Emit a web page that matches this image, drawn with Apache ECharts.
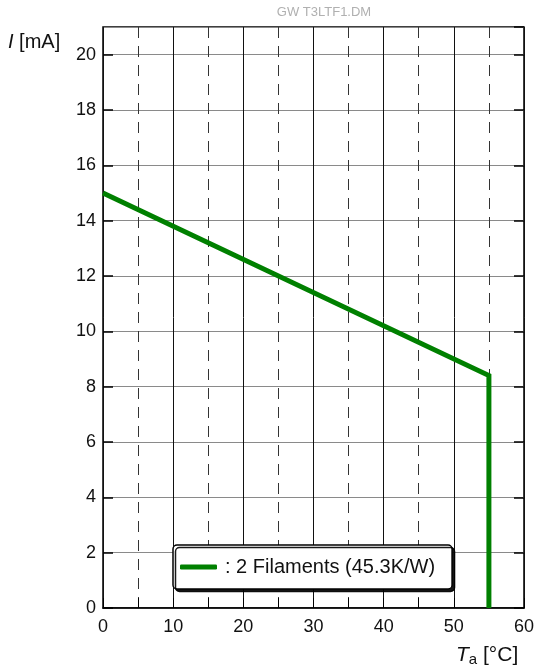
<!DOCTYPE html>
<html>
<head>
<meta charset="utf-8">
<script src="https://cdn.jsdelivr.net/npm/echarts@6/dist/echarts.min.js"></script>
<style>
  html, body { margin: 0; padding: 0; background: #fff; }
  #chart { width: 537px; height: 671px; }
</style>
</head>
<body>
<div id="chart"></div>
<script>
// Derating curve: permissible current vs. ambient temperature
const seriesName = ': 2 Filaments (45.3K/W)';
const ambientTemp = [0, 55, 55];      // °C
const currentMA = [15, 8.4, 0];       // mA
const xMin = 0, xMax = 60, xStep = 10;
const yMin = 0, yMax = 21, yStep = 2;
const chartCode = 'GW T3LTF1.DM';

const FONT = '"Liberation Sans", Arial, Helvetica, sans-serif';
const GREEN = '#008000';
const points = ambientTemp.map((t, i) => [t, currentMA[i]]);

const chart = echarts.init(document.getElementById('chart'), null, { renderer: 'canvas' });

const yCommon = {
  type: 'value', min: yMin, max: yMax, interval: yStep,
  axisLine: { show: false },
  axisTick: { show: true, inside: true, length: 10, lineStyle: { color: '#000', width: 1.5 } }
};

chart.setOption({
  animation: false,
  title: {
    text: chartCode, left: 319, top: 1, textAlign: 'center',
    textStyle: { fontFamily: FONT, fontSize: 13, fontWeight: 'normal', color: '#b0b0b0' }
  },
  grid: {
    left: 103, right: 13, top: 27, bottom: 63,
    show: true, borderColor: '#000', borderWidth: 1.5, backgroundColor: 'transparent'
  },
  xAxis: {
    type: 'value', min: xMin, max: xMax, interval: xStep,
    axisLine: { show: true, lineStyle: { color: '#000', width: 1.5 } },
    axisTick: { show: true, inside: true, length: 10, lineStyle: { color: '#000', width: 1 } },
    minorTick: { show: true, splitNumber: 2, length: 10, lineStyle: { color: '#000', width: 1 } },
    axisLabel: { fontFamily: FONT, fontSize: 18, color: '#111', margin: 10 },
    splitLine: { show: true, lineStyle: { color: '#111', width: 1 } },
    minorSplitLine: { show: true, lineStyle: { color: '#333', width: 1, type: [11, 8] } }
  },
  yAxis: [
    Object.assign({}, yCommon, {
      position: 'left',
      axisLabel: { fontFamily: FONT, fontSize: 18, color: '#111', margin: 7, showMaxLabel: false },
      splitLine: { show: true, lineStyle: { color: '#8a8a8a', width: 1.2 } }
    }),
    Object.assign({}, yCommon, {
      position: 'right',
      axisLabel: { show: false },
      splitLine: { show: false }
    })
  ],
  legend: {
    left: 173, top: 545,
    padding: [12, 17, 12, 7],
    backgroundColor: '#fff',
    borderColor: '#000', borderWidth: 1.5, borderRadius: 4,
    shadowColor: 'rgba(0,0,0,0.9)', shadowOffsetX: 2.5, shadowOffsetY: 2.5, shadowBlur: 0,
    itemWidth: 37, itemHeight: 5, itemGap: 6,
    icon: 'roundRect',
    itemStyle: { color: GREEN },
    textStyle: { fontFamily: FONT, fontSize: 20, color: '#111', padding: [0, 0, 0, 3] },
    data: [{ name: seriesName }]
  },
  graphic: [
    {
      type: 'text', left: 8, top: 32,
      style: {
        text: '{i|I} [mA]',
        font: '20px ' + FONT, fill: '#111',
        rich: { i: { fontStyle: 'italic', fontFamily: FONT, fontSize: 20 } }
      }
    },
    {
      type: 'text', left: 456, top: 645,
      style: {
        text: '{i|T}{s|a} [°C]',
        font: '21px ' + FONT, fill: '#111',
        rich: {
          i: { fontStyle: 'italic', fontFamily: FONT, fontSize: 21 },
          s: { fontFamily: FONT, fontSize: 15, verticalAlign: 'bottom', padding: [9, 0, 0, 0] }
        }
      }
    }
  ],
  series: [{
    name: seriesName,
    type: 'line',
    data: points,
    showSymbol: false,
    symbol: 'none',
    lineStyle: { color: GREEN, width: 5, cap: 'butt', join: 'miter' },
    itemStyle: { color: GREEN },
    z: 5
  }]
});
</script>
</body>
</html>
